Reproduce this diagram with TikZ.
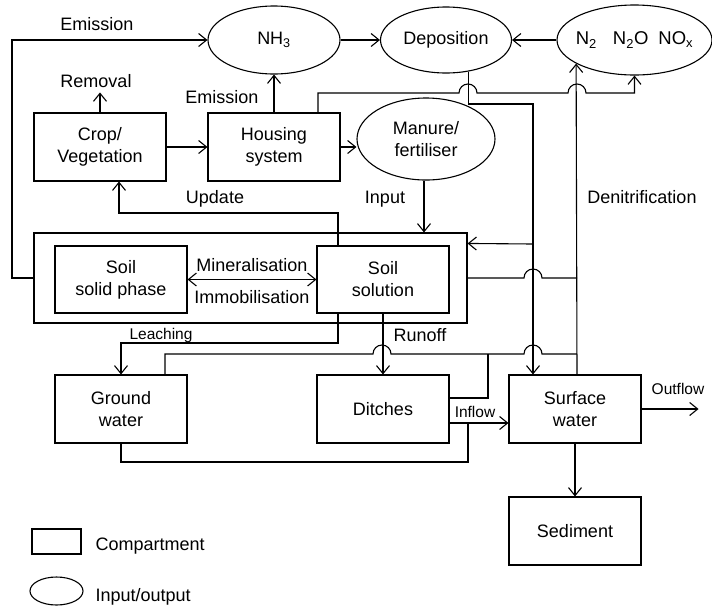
\documentclass[tikz,border=0pt]{standalone}
\usepackage{fontspec}
\setmainfont{Liberation Sans}
\usetikzlibrary{arrows.meta,shapes.geometric,calc}
\begin{document}
\begin{tikzpicture}[x=1pt,y=-1pt,line width=1.1pt,
  arr/.style={-{Straight Barb[length=8pt,width=13pt]}},
  darr/.style={{Straight Barb[length=8pt,width=13pt]}-{Straight Barb[length=8pt,width=13pt]}},
  box/.style={draw,minimum width=132pt,minimum height=68pt,inner sep=0pt,align=center,font=\fontsize{18}{22}\selectfont},
  io/.style={draw,ellipse,inner sep=0pt},
  lbl/.style={font=\fontsize{18}{22}\selectfont,inner sep=0pt,anchor=base,align=center},
  slbl/.style={font=\fontsize{15.5}{18}\selectfont,inner sep=0pt,anchor=base},
]
\useasboundingbox (0,0) rectangle (712,606);

% input/output ellipses
\node[io,minimum width=132pt,minimum height=68pt,label={[lbl,anchor=center]center:NH\textsubscript{3}}] (nh3) at (274,40) {};
\node[io,minimum width=131pt,minimum height=66pt,label={[lbl,anchor=center]center:Deposition}] (dep) at (446,40) {};
\node[io,minimum width=155pt,minimum height=70pt,label={[lbl,anchor=center,font=\fontsize{18.5}{22}\selectfont]center:N\textsubscript{2}\hspace{16pt}N\textsubscript{2}O\hspace{10pt}NO\textsubscript{x}}] (nox) at (634.5,40) {};
\node[io,minimum width=138pt,minimum height=82pt,label={[lbl,anchor=center]center:Manure/\\fertiliser}] (manure) at (426,139) {};

% compartments
\node[box] (crop) at (100,147) {Crop/\\Vegetation};
\node[box] (house) at (274,147) {Housing\\system};
\node[draw,minimum width=433pt,minimum height=90pt,inner sep=0pt] (soilout) at (250.5,278) {};
\node[box,minimum height=67pt] (solid) at (121,279.5) {Soil\\solid phase};
\node[box,minimum height=67pt] (soln) at (383,279.5) {Soil\\solution};
\node[box] (gw) at (121,409) {Ground\\water};
\node[box] (ditch) at (383,409) {Ditches};
\node[box] (surf) at (575,409) {Surface\\water};
\node[box] (sed) at (575,531) {Sediment};

% legend
\node[draw,minimum width=49pt,minimum height=25pt,inner sep=0pt] (legbox) at (56.5,541.5) {};
\node[io,minimum width=53pt,minimum height=28pt] (legell) at (56.5,591) {};
\node[lbl,anchor=base west] (legt1) at (95,550) {Compartment};
\node[lbl,anchor=base west] (legt2) at (95,601) {Input/output};

% labels
\node[lbl] (lemis1) at (97,30.5) {Emission};
\node[lbl] (lremov) at (96,87) {Removal};
\node[lbl] (lemis2) at (222,103.5) {Emission};
\node[lbl] (lupd) at (215,203.5) {Update};
\node[lbl] (linp) at (385,203.5) {Input};
\node[lbl] (ldenit) at (642,203.5) {Denitrification};
\node[lbl] (lmin) at (252,271) {Mineralisation};
\node[lbl] (limm) at (252,303) {Immobilisation};
\node[slbl] (lleach) at (161,339) {Leaching};
\node[lbl] (lrun) at (420,341) {Runoff};
\node[slbl] (linfl) at (475,417) {Inflow};
\node[slbl] (loutf) at (678,394) {Outflow};

% connectors
\draw[arr] (soilout.west) -- (12,278) |- (nh3.west);
\draw[arr] (nh3.east) -- (dep.west);
\draw[arr] (nox.west) -- (dep.east);
\draw[arr] (crop.north) -- ++(0,-20) coordinate (rem);
\draw[arr] (crop) -- (house);
\draw[arr] (house.north) -- (nh3.south);
\draw[arr] (house.east) -- (house.east -| manure.west);
\draw[arr] ($(house.north)+(44,0)$) -- (318,93) -- (459,93)
  arc[start angle=180,end angle=0,radius=9pt] -- (568,93)
  arc[start angle=180,end angle=0,radius=9pt] -- (634.5,93) -- (nox.south);
\draw[arr] (dep.305) |- (533,104) -- ($(surf.north)+(-42,0)$);
\draw[arr] (533,244) -- ($(soilout.north east)+(0,11)$);
\draw[arr] ($(surf.north)+(2,0)$) -- (nox.202);
\draw (soilout.east) -- (524,278) arc[start angle=180,end angle=0,radius=9pt] -- (577,278);
\draw ($(gw.north)+(44,0)$) |- (373,354) arc[start angle=180,end angle=0,radius=9pt]
  -- (524,354) arc[start angle=180,end angle=0,radius=9pt] -- (577,354);
\draw ($(ditch.east)+(0,-11)$) -| (488,354);
\draw[arr] ($(ditch.east)+(0,14)$) -- ($(surf.west)+(0,14)$);
\draw (gw.south) |- (468,462) -- (468,423);
\draw[arr] (surf) -- (sed);
\draw[arr] (surf.east) -- ++(57,0) coordinate (outf);
\draw[arr] ($(soln.north)+(-45,0)$) |- (119,213) -- ($(crop.south)+(19,0)$);
\draw[arr] ($(manure.south)+(-2,0)$) -- ($(soilout.north)+(173.5,0)$);
\draw[arr] ($(soln.south)+(-45,0)$) |- (121,343) -- (gw.north);
\draw[arr] (soln.south) -- (ditch.north);
\draw[darr] (solid.east) -- (soln.west);
\end{tikzpicture}
\end{document}
